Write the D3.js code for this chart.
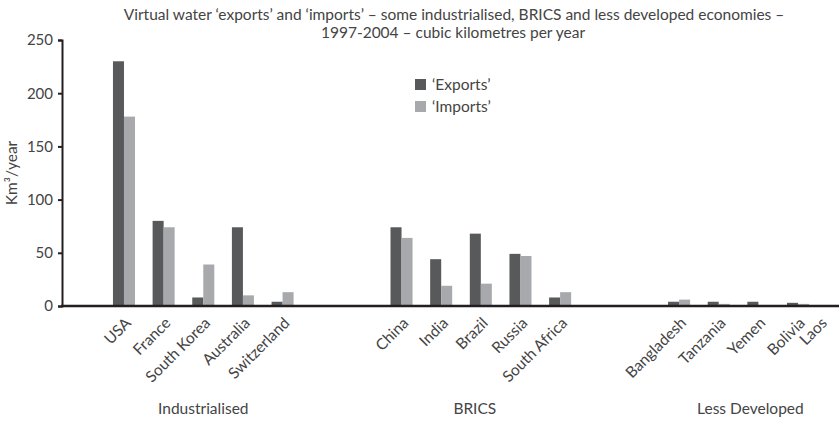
<!DOCTYPE html>
<html>
<head>
<meta charset="utf-8">
<script src="https://cdn.jsdelivr.net/npm/d3@7"></script>
<style>
  body { margin: 0; background: #fff; }
  svg { font-family: Lato, "Open Sans", sans-serif; }
</style>
</head>
<body>
<svg id="chart"></svg>
<script>
// categories, with blank slots used as spacers between the groups
const categories = ["_b0", "USA", "France", "South Korea", "Australia", "Switzerland",
  "_b1", "_b2", "China", "India", "Brazil", "Russia", "South Africa",
  "_b3", "_b4", "Bangladesh", "Tanzania", "Yemen", "Bolivia", "Laos"];

const countries = ["USA", "France", "South Korea", "Australia", "Switzerland",
  "China", "India", "Brazil", "Russia", "South Africa",
  "Bangladesh", "Tanzania", "Yemen", "Bolivia", "Laos"];
const exportsKm3 = [230, 80, 8, 74, 4, 74, 44, 68, 49, 8, 4, 4, 4, 3, 0];
const importsKm3 = [178, 74, 39, 10, 13, 64, 19, 21, 47, 13, 6, 2, 0, 2, 0];

const groups = ["Industrialised", "BRICS", "Less Developed"];
const groupMembers = [["USA", "Switzerland"], ["China", "South Africa"], ["Bangladesh", "Laos"]];
const yTicks = [0, 50, 100, 150, 200, 250];
const seriesNames = ["\u2018Exports\u2019", "\u2018Imports\u2019"];
const colors = ["#58595b", "#a7a9ac"];

const width = 839, height = 421;
const margin = { top: 40, right: -18.5, bottom: 115, left: 64.5 };

const svg = d3.select("#chart").attr("width", width).attr("height", height);

const x = d3.scaleBand()
  .domain(categories)
  .range([margin.left, width - margin.right]);

const x1 = d3.scaleBand()
  .domain([0, 1])
  .range([0, x.bandwidth()])
  .paddingInner(0)
  .paddingOuter(0.8);

const y = d3.scaleLinear()
  .domain([0, 250])
  .range([height - margin.bottom, margin.top]);

// title
svg.append("text")
  .attr("x", 454).attr("y", 20)
  .attr("text-anchor", "middle")
  .attr("font-size", 15.5).attr("fill", "#444")
  .text("Virtual water \u2018exports\u2019 and \u2018imports\u2019 \u2013 some industrialised, BRICS and less developed economies \u2013");
svg.append("text")
  .attr("x", 453).attr("y", 38)
  .attr("text-anchor", "middle")
  .attr("font-size", 15.5).attr("fill", "#444")
  .text("1997-2004 \u2013 cubic kilometres per year");

// bars
const rows = countries.map((c, i) => ({ c, vals: [exportsKm3[i], importsKm3[i]] }));
const g = svg.append("g").selectAll("g")
  .data(rows)
  .join("g")
  .attr("transform", d => `translate(${x(d.c)},0)`);
g.selectAll("rect")
  .data(d => d.vals.map((v, k) => ({ v, k })))
  .join("rect")
  .attr("x", d => x1(d.k))
  .attr("y", d => y(d.v))
  .attr("width", x1.bandwidth())
  .attr("height", d => y(0) - y(d.v))
  .attr("fill", d => colors[d.k]);

// y axis
const yAxis = svg.append("g")
  .attr("transform", "translate(62,0)")
  .call(d3.axisLeft(y).tickValues(yTicks).tickSize(4).tickPadding(5));
yAxis.select(".domain").attr("stroke", "#231f20").attr("stroke-width", 2);
yAxis.selectAll(".tick line").attr("stroke", "#231f20").attr("stroke-width", 2);
yAxis.selectAll(".tick text").attr("font-size", 15).attr("fill", "#444")
  .attr("font-family", "Lato, sans-serif");

// x axis line
svg.append("line")
  .attr("x1", 61).attr("x2", width)
  .attr("y1", y(0)).attr("y2", y(0))
  .attr("stroke", "#231f20").attr("stroke-width", 2.5);

// category labels
svg.append("g").selectAll("text")
  .data(countries)
  .join("text")
  .attr("transform", d => `translate(${Math.min(x(d) + x.bandwidth() / 2 + 8, 828)},${y(0) + 18}) rotate(-45)`)
  .attr("text-anchor", "end")
  .attr("font-size", 15.5).attr("fill", "#444")
  .text(d => d);

// group labels
svg.append("g").selectAll("text")
  .data(groups)
  .join("text")
  .attr("x", (d, i) => (x(groupMembers[i][0]) + x(groupMembers[i][1]) + x.bandwidth()) / 2 + [0, -6, -8][i])
  .attr("y", 414)
  .attr("text-anchor", "middle")
  .attr("font-size", 15.5).attr("fill", "#444")
  .text(d => d);

// y label
svg.append("text")
  .attr("transform", "translate(17,173) rotate(-90)")
  .attr("text-anchor", "middle")
  .attr("font-size", 15.5).attr("fill", "#444")
  .text("Km\u00b3/year");

// legend
const leg = svg.append("g").attr("transform", "translate(415,79)");
seriesNames.forEach((s, i) => {
  leg.append("rect").attr("x", 0).attr("y", i * 22).attr("width", 11).attr("height", 11)
    .attr("fill", colors[i]);
  leg.append("text").attr("x", 17).attr("y", i * 22 + 11)
    .attr("font-size", 15.5).attr("fill", "#444").text(s);
});
</script>
</body>
</html>
